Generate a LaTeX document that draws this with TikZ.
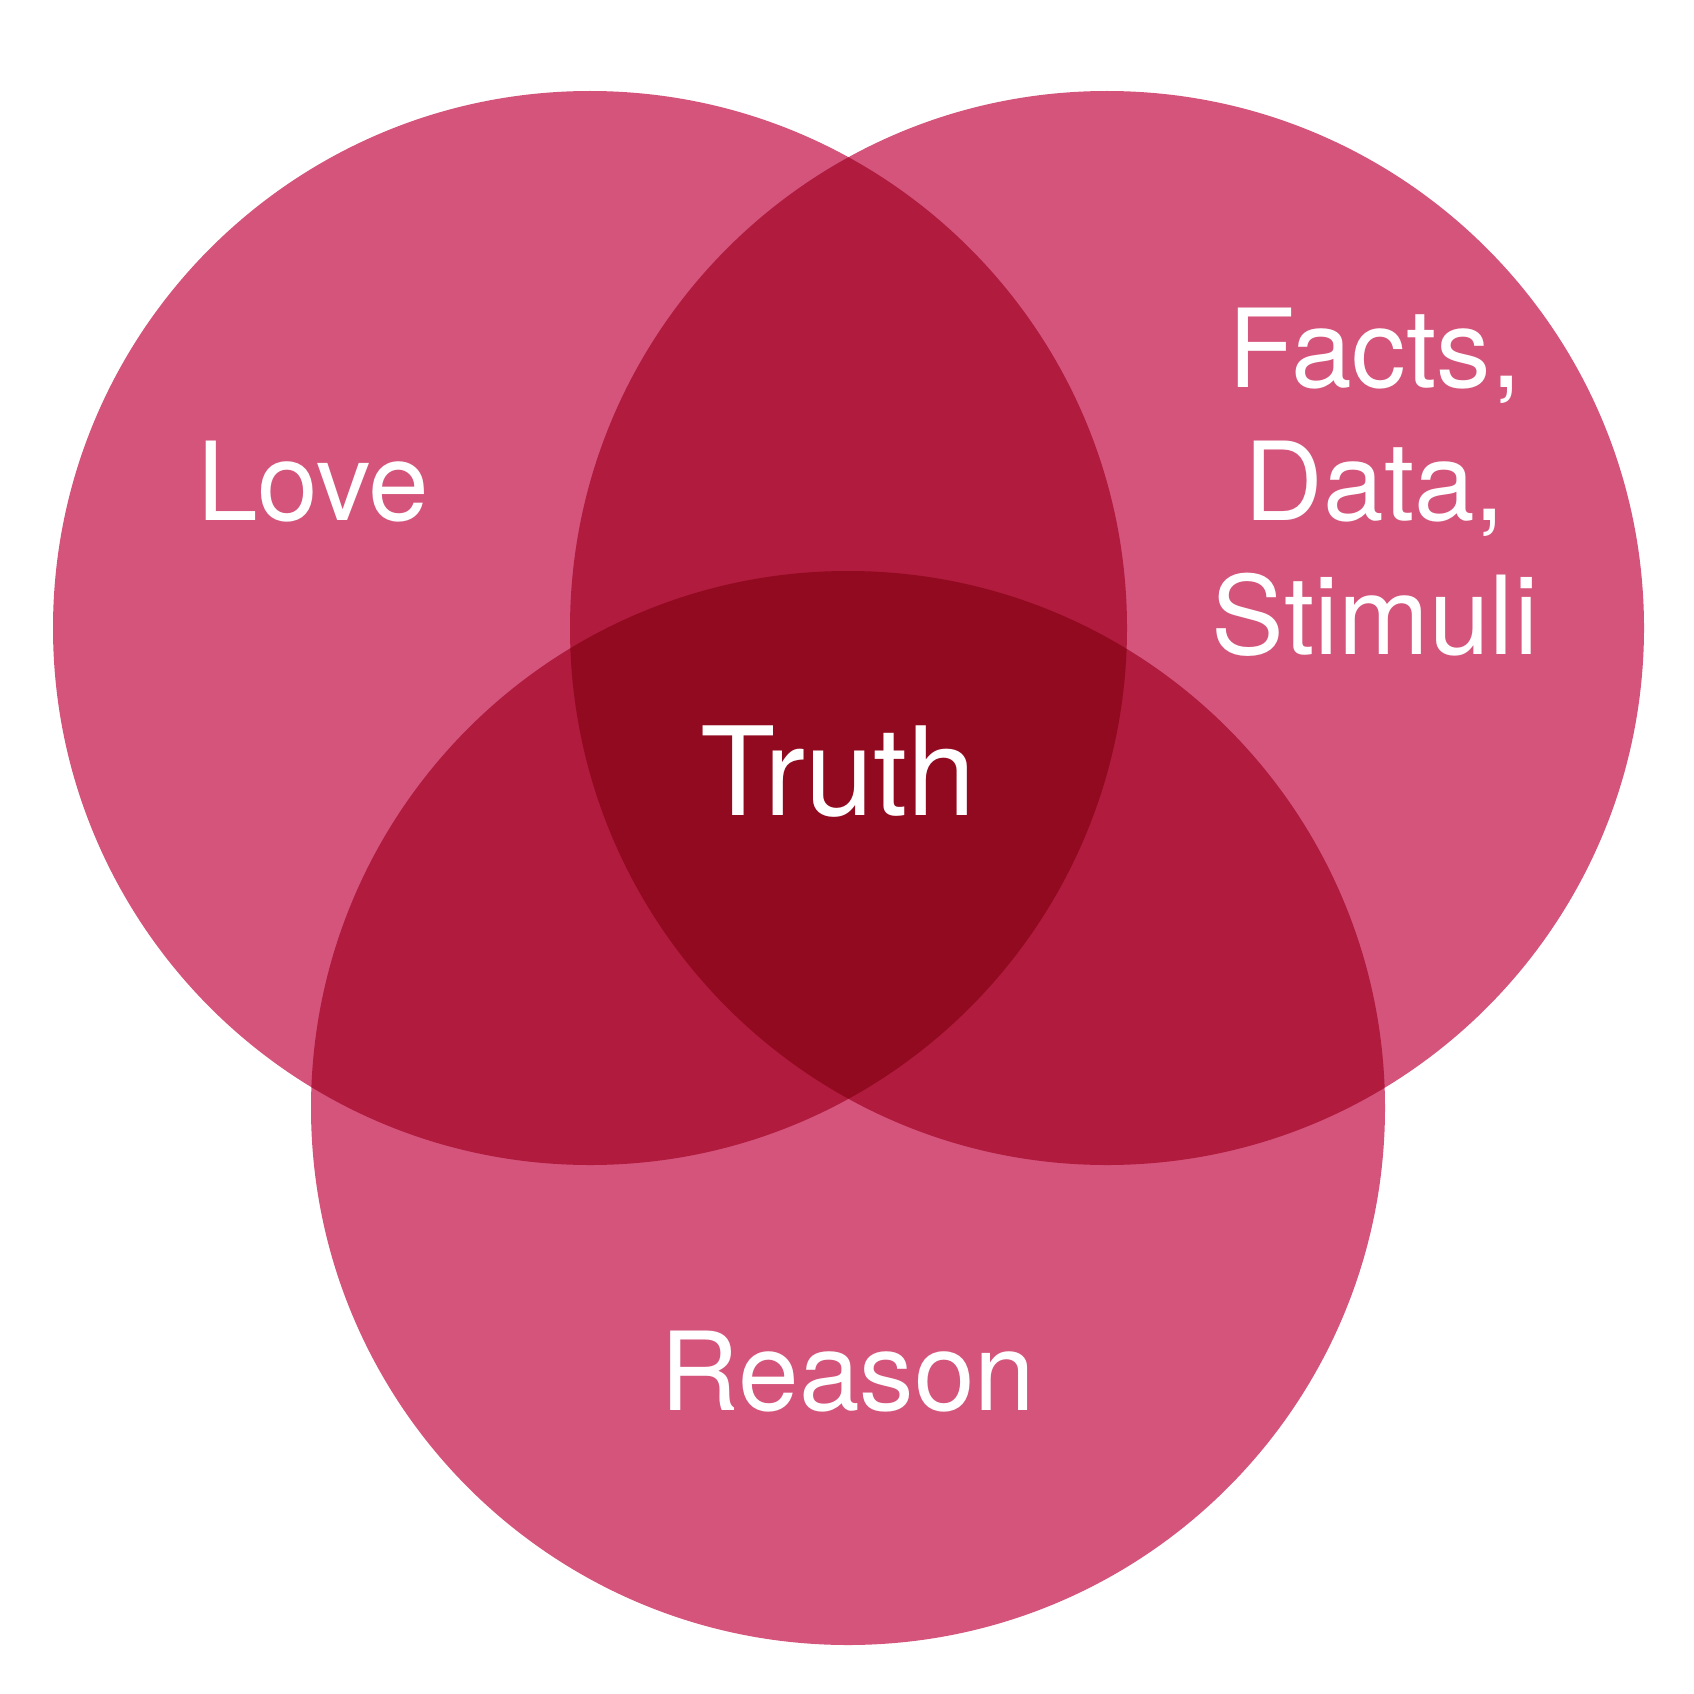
\documentclass[tikz,border=0pt]{standalone}
\usepackage{fontspec}
\setmainfont{TeX Gyre Heros}
\definecolor{one}{HTML}{D4547C}
\definecolor{two}{HTML}{B01B3E}
\definecolor{three}{HTML}{920A20}
\begin{document}
\begin{tikzpicture}[x=0.01cm,y=-0.01cm,
  lbl/.style={text=white,font=\fontsize{31}{36}\selectfont,align=center},
  big/.style={text=white,font=\fontsize{35}{40}\selectfont}]
\useasboundingbox (0,0) rectangle (1694,1694);
\def\cA{(590,628) circle (537)}
\def\cB{(1107,628) circle (537)}
\def\cC{(848,1108) circle (537)}
\fill[one] \cA; \fill[one] \cB; \fill[one] \cC;
\begin{scope}\clip \cA; \fill[two] \cB; \fill[two] \cC; \end{scope}
\begin{scope}\clip \cB; \fill[two] \cC; \end{scope}
\begin{scope}\clip \cA; \clip \cB; \fill[three] \cC; \end{scope}
\node[lbl] (love) at (313,482) {Love};
\node[lbl] (facts) at (1375,482) {Facts,\\[2pt]Data,\\[2pt]Stimuli};
\node[big] (truth) at (838,772) {Truth};
\node[lbl] (reason) at (848,1372) {Reason};
\end{tikzpicture}
\end{document}
